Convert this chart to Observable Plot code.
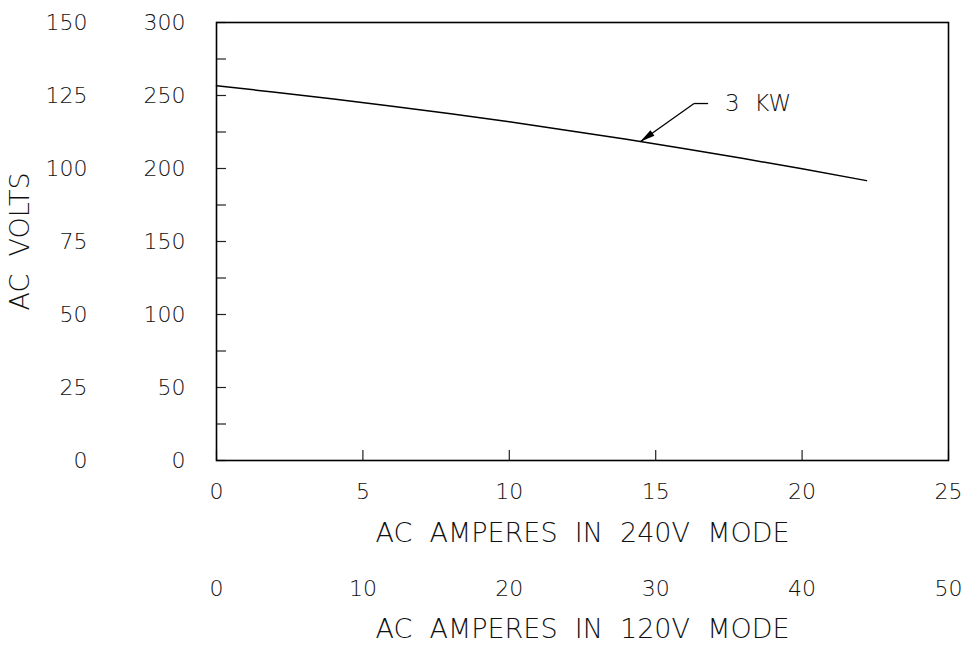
<!DOCTYPE html>
<html><head><meta charset="utf-8">
<script src="https://cdn.jsdelivr.net/npm/d3@7"></script>
<script src="https://cdn.jsdelivr.net/npm/@observablehq/plot@0.6"></script>
<style>
body{margin:0;background:#fff;}
#chart svg{display:block;}
</style></head><body><div id="chart"></div>
<script>
// Curve: AC volts vs AC amperes (240V mode)
const amps240 = [0, 2, 4, 6, 8, 10, 12, 14, 16, 18, 20, 22.2];
const volts   = [256.6, 252.3, 247.6, 242.7, 237.5, 232.0, 226.1, 220.0, 213.6, 206.8, 199.8, 191.7];

// Tick values / labels
const xTicks240 = [0, 5, 10, 15, 20, 25];
const xTicks120 = [0, 10, 20, 30, 40, 50];
const yTicksMinor = [0, 25, 50, 75, 100, 125, 150, 175, 200, 225, 250, 275, 300];
const yLabels240 = [0, 50, 100, 150, 200, 250, 300];
const yLabels120 = [0, 25, 50, 75, 100, 125, 150];

// Annotation (data coordinates)
const annotLabel = ["3  KW"];
const annotTip = [{a: 14.47, v: 218.3}];
const annotKnee = [{a: 16.31, v: 244.5}];
const annotEnd = [{a: 16.79, v: 244.5}];
const annotText = [{a: 17.37, v: 244.5}];

const curve = amps240.map((a, i) => ({a, v: volts[i]}));

function filledArrow(color, context) {
  const doc = (context && context.document) || document;
  const ns = "http://www.w3.org/2000/svg";
  const m = doc.createElementNS(ns, "marker");
  m.setAttribute("viewBox", "-16 -5 17 10");
  m.setAttribute("markerWidth", 17);
  m.setAttribute("markerHeight", 10);
  m.setAttribute("markerUnits", "userSpaceOnUse");
  m.setAttribute("orient", "auto");
  m.setAttribute("refX", 0);
  m.setAttribute("refY", 0);
  const p = doc.createElementNS(ns, "path");
  p.setAttribute("d", "M0,0L-15,-3.4L-15,3.4Z");
  p.setAttribute("fill", color);
  p.setAttribute("stroke", "none");
  m.appendChild(p);
  return m;
}

const FONT = "'DejaVu Sans ExtraLight', 'DejaVu Sans', sans-serif";

const chart = Plot.plot({
  width: 966,
  height: 645,
  marginLeft: 216,
  marginRight: 18,
  marginTop: 22,
  marginBottom: 185,
  style: {fontFamily: FONT, fontSize: "22px", fontWeight: 200, background: "#fff", color: "#000"},
  x: {domain: [0, 25]},
  y: {domain: [0, 300]},
  marks: [
    Plot.axisY(yTicksMinor, {tickSize: -10, fill: "none", label: null, stroke: "#222", strokeWidth: 1.2}),
    Plot.axisX(xTicks240, {tickSize: -10, fill: "none", label: null, stroke: "#222", strokeWidth: 1.2}),
    Plot.frame({stroke: "#000", strokeWidth: 1.6}),
    // y labels (240V scale)
    Plot.text(yLabels240, {y: d => d, frameAnchor: "left", dx: -31, textAnchor: "end", lineAnchor: "middle", fontSize: 22, fill: "#111"}),
    // y labels (120V scale)
    Plot.text(yLabels240, {y: d => d, text: (d, i) => String(yLabels120[i]), frameAnchor: "left", dx: -129, textAnchor: "end", lineAnchor: "middle", fontSize: 22, fill: "#111"}),
    Plot.text(["AC  VOLTS"], {frameAnchor: "left", dx: -196, textAnchor: "middle", rotate: -90, fontSize: 27, lineAnchor: "middle", fill: "#111"}),
    // x labels
    Plot.text(xTicks240, {x: d => d, frameAnchor: "bottom", dy: 31, lineAnchor: "middle", fontSize: 22, fill: "#111"}),
    Plot.text(["AC  AMPERES  IN  240V  MODE"], {frameAnchor: "bottom", dy: 73, lineAnchor: "middle", fontSize: 27, fill: "#111"}),
    Plot.text(xTicks240, {x: d => d, text: (d, i) => String(xTicks120[i]), frameAnchor: "bottom", dy: 128, lineAnchor: "middle", fontSize: 22, fill: "#111"}),
    Plot.text(["AC  AMPERES  IN  120V  MODE"], {frameAnchor: "bottom", dy: 169, lineAnchor: "middle", fontSize: 27, fill: "#111"}),
    // curve
    Plot.line(curve, {x: "a", y: "v", stroke: "#000", strokeWidth: 1.5}),
    // annotation
    Plot.link([0], {x1: () => annotKnee[0].a, y1: () => annotKnee[0].v, x2: () => annotTip[0].a, y2: () => annotTip[0].v, stroke: "#000", strokeWidth: 1.3, markerEnd: filledArrow}),
    Plot.link([0], {x1: () => annotKnee[0].a, y1: () => annotKnee[0].v, x2: () => annotEnd[0].a, y2: () => annotEnd[0].v, stroke: "#000", strokeWidth: 1.3}),
    Plot.text(annotLabel, {x: () => annotText[0].a, y: () => annotText[0].v, text: d => d, textAnchor: "start", lineAnchor: "middle", fontSize: 23, fill: "#111"})
  ]
});
document.getElementById("chart").appendChild(chart);
</script>
</body></html>
